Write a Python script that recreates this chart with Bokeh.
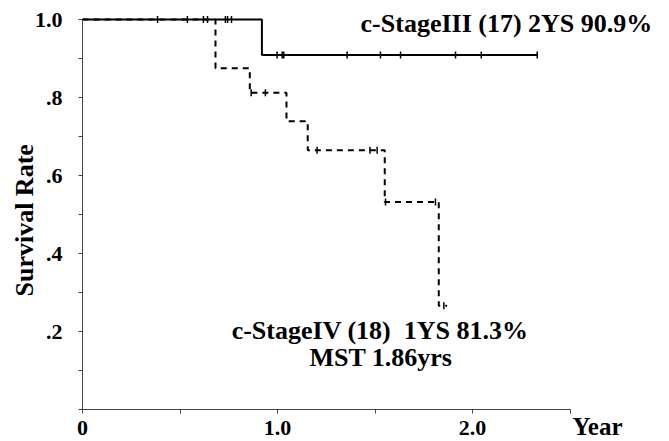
import numpy as np
from bokeh.plotting import figure
from bokeh.models import FixedTicker, Label, Range1d
from bokeh.embed import file_html
from bokeh.resources import INLINE

# Stage III (n=17)
stage3_times = [0.0, 0.92, 2.332]
stage3_surv = [1.0, 0.909, 0.909]
stage3_cens_t = [0.385, 0.538, 0.62, 0.641, 0.733, 0.744, 0.764,
                 0.998, 1.024, 1.032, 1.357, 1.528, 1.631, 1.913, 2.045, 2.332]
stage3_cens_s = [1.0, 1.0, 1.0, 1.0, 1.0, 1.0, 1.0,
                 0.909, 0.909, 0.909, 0.909, 0.909, 0.909, 0.909, 0.909, 0.909]

# Stage IV (n=18)
stage4_times = [0.0, 0.682, 0.858, 1.046, 1.155, 1.55, 1.827, 1.87]
stage4_surv = [1.0, 0.875, 0.8125, 0.739, 0.665, 0.532, 0.266, 0.266]
stage4_cens_t = [0.865, 0.938, 1.203, 1.474, 1.511, 1.554, 1.81, 1.853]
stage4_cens_s = [0.8125, 0.8125, 0.665, 0.665, 0.665, 0.532, 0.532, 0.266]

x_major = [0, 1, 2]
x_minor = [0.5, 1.5, 2.5]
x_labels = {0: "0", 1: "1.0", 2: "2.0"}
y_major = [0.2, 0.4, 0.6, 0.8, 1.0]
y_minor = [0.0, 0.1, 0.3, 0.5, 0.7, 0.9]
y_labels = {0.2: ".2", 0.4: ".4", 0.6: ".6", 0.8: ".8", 1.0: "1.0"}

FONT = "Liberation Serif"

# layout in page pixels
OFF = 0                 # figure offset in the photographed page
W, H = 661, 441
X0, PX_PER_YEAR = 82, 195.0   # x of year 0, pixels per year
Y0, PX_PER_UNIT = 409, 390.0  # y of rate 0, pixels per 1.0

xr = Range1d((OFF - X0) / PX_PER_YEAR, (OFF + W - X0) / PX_PER_YEAR)
yr = Range1d((Y0 - (OFF + H)) / PX_PER_UNIT, (Y0 - OFF) / PX_PER_UNIT)

p = figure(width=W, height=H, x_range=xr, y_range=yr,
           output_backend="svg", toolbar_location=None,
           min_border=0, min_border_left=0, min_border_right=0,
           min_border_top=0, min_border_bottom=0)
p.background_fill_color = "white"
p.border_fill_color = "white"
p.outline_line_color = None
p.grid.visible = False

for ax in (p.xaxis[0], p.yaxis[0]):
    ax.fixed_location = 0
    ax.axis_line_color = "#444444"
    ax.axis_line_width = 1
    ax.major_tick_line_color = "#444444"
    ax.minor_tick_line_color = "#444444"
    ax.major_tick_in = 0
    ax.minor_tick_in = 0
    ax.major_tick_out = 4
    ax.minor_tick_out = 4
    ax.major_label_text_font = FONT
    ax.major_label_text_font_style = "bold"
    ax.major_label_text_font_size = "22px"
    ax.major_label_text_color = "black"

p.xaxis.bounds = (0, 2.5)
p.yaxis.bounds = (0, 1.0)
p.xaxis.ticker = FixedTicker(ticks=x_major, minor_ticks=x_minor)
p.xaxis.major_label_overrides = x_labels
p.xaxis.major_label_standoff = 7
p.yaxis.ticker = FixedTicker(ticks=y_major, minor_ticks=y_minor)
p.yaxis.major_label_overrides = y_labels
p.yaxis.major_label_standoff = 16

p.step(stage3_times, stage3_surv, mode="after", line_color="black", line_width=2)
p.step(stage4_times, stage4_surv, mode="after", line_color="black", line_width=2,
       line_dash="6 5")
p.scatter(stage3_cens_t, stage3_cens_s, marker="dash", angle=np.pi / 2, size=7,
          line_color="black", line_width=1.5)
p.scatter(stage4_cens_t, stage4_cens_s, marker="dash", angle=np.pi / 2, size=7,
          line_color="black", line_width=1.5)

def lab(x, y, text, align="left", baseline="middle", angle=0, size="26px"):
    p.add_layout(Label(x=x, y=y, text=text, text_font=FONT, text_font_style="bold",
                       text_font_size=size, text_align=align, text_baseline=baseline,
                       angle=angle, text_color="black"))

lab(1.426, 0.989, "c-StageIII (17) 2YS 90.9%")
lab(2.287, 0.202, "c-StageIV (18)\u00a0 1YS 81.3%", align="right")
lab(1.897, 0.133, "MST 1.86yrs", align="right")
lab(2.513, -0.044, "Year", size="25px")
lab(-0.297, 0.485, "Survival Rate", align="center", baseline="middle", angle=np.pi / 2)

open("out.html", "w").write(file_html(p, INLINE))
